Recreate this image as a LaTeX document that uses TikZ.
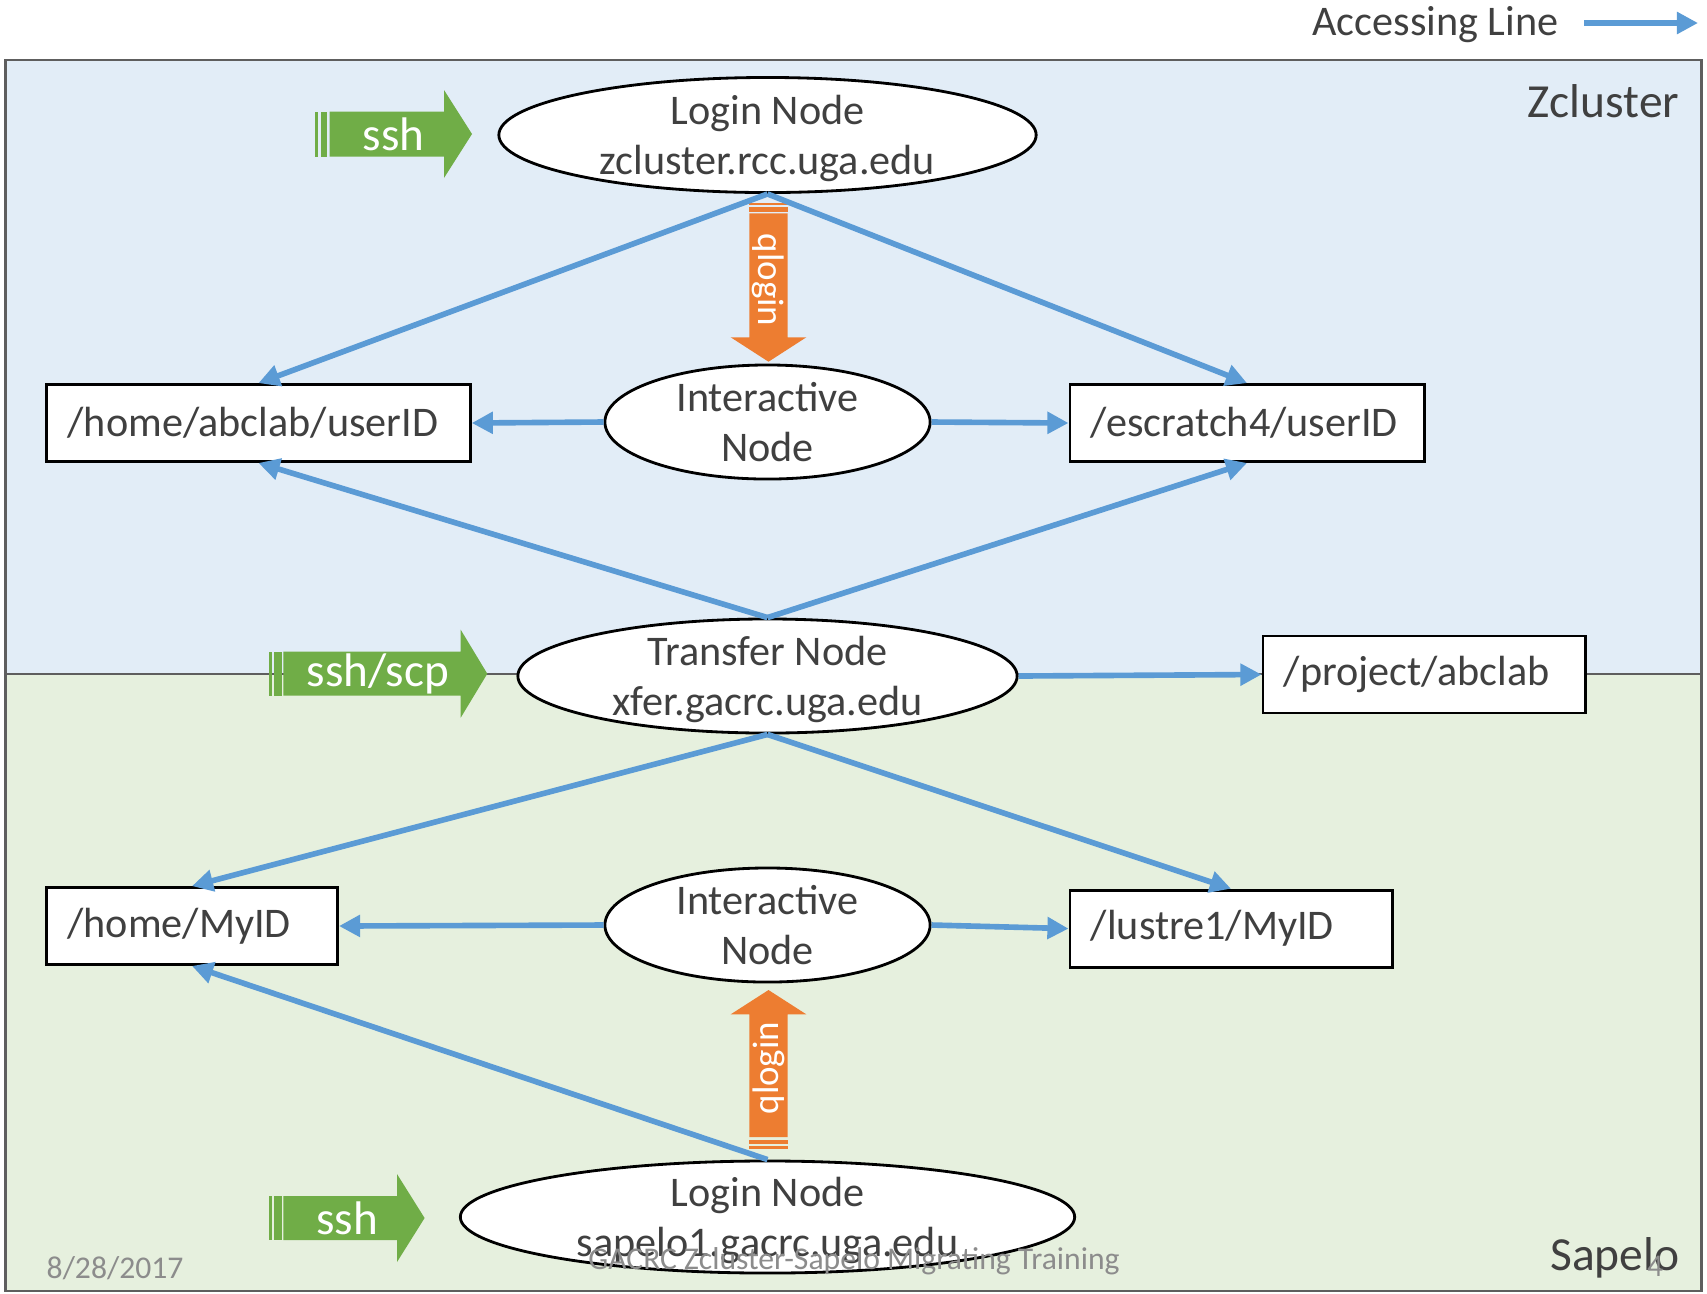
\documentclass[tikz,border=0pt]{standalone}
\usepackage{fontspec}
\setmainfont{Carlito}
\usetikzlibrary{shapes.geometric,arrows.meta}
\definecolor{accblue}{HTML}{5B9BD5}
\definecolor{qorange}{HTML}{ED7D31}
\definecolor{sshgreen}{HTML}{70AD47}
\definecolor{zfill}{HTML}{E2EDF7}
\definecolor{sfill}{HTML}{E6F0DE}
\definecolor{framegrey}{HTML}{5E5E5E}
\definecolor{txt}{HTML}{404040}
\definecolor{foot}{HTML}{8C8C8C}
\tikzstyle{host} = [ellipse, draw = black, line width = 0.8pt, fill = white, inner xsep = 0pt, inner ysep = -8pt, align = center, text = txt, font = \fontsize{12}{14.3}\selectfont, execute at begin node = {\rule{0pt}{25.4pt}}, execute at end node = {\rule[-3pt]{0pt}{0pt}}]
\tikzstyle{dir} = [rectangle, draw = black, line width = 0.8pt, fill = white, inner xsep = 0.21cm, minimum height = 0.77cm, align = left, text = txt, font = \fontsize{12}{14.3}\selectfont]
\tikzstyle{access} = [draw = accblue, line width = 1.6pt, -{Triangle[length = 6pt, width = 6pt]}]
\tikzstyle{cluster} = [text = txt, font = \fontsize{13.5}{16}\selectfont, anchor = east, inner sep = 0pt]
\tikzstyle{footer} = [text = foot, font = \fontsize{9}{11}\selectfont, inner sep = 0pt]
\tikzstyle{ssh} = [text = white, font = \fontsize{13.4}{16}\selectfont]
\tikzstyle{qlogin} = [text = white, font = \fontsize{10.5}{12}\selectfont]

\begin{document}
\begin{tikzpicture}[x = 0.01cm, y = -0.01cm]
\useasboundingbox (0,0) rectangle (1707,1293);

\fill[zfill] (5.4,60) rectangle (1701.5,674);
\fill[sfill] (5.4,674) rectangle (1701.5,1291);
\draw[framegrey, line width = 0.8pt] (5.4,674) -- (1701.5,674);
\draw[framegrey, line width = 0.8pt] (5.4,60) rectangle (1701.5,1291);

\node(zlabel) [cluster] at (1680,101) {Zcluster};
\node(slabel) [cluster] at (1680,1258) {Sapelo};

\node(legend) [text = txt, font = \fontsize{12}{14.3}\selectfont, anchor = east, inner sep = 0pt] at (1559,25) {Accessing Line};
\coordinate (legA) at (1584,23);
\coordinate (legB) at (1698,23);
\draw [access] (legA) -- (legB);

\node(zlogin) [host, minimum width = 5.37cm, minimum height = 1.15cm] at (767.5,135) {Login Node\\zcluster.rcc.uga.edu};
\node(zinter) [host, minimum width = 3.25cm, minimum height = 1.14cm] at (767.5,422) {Interactive\\Node};
\node(xfer) [host, minimum width = 4.99cm, minimum height = 1.14cm] at (767.5,676) {Transfer Node\\xfer.gacrc.uga.edu};
\node(sinter) [host, minimum width = 3.25cm, minimum height = 1.14cm] at (767.5,925) {Interactive\\Node};
\node(slogin) [host, minimum width = 6.14cm, minimum height = 1.12cm] at (767.5,1217) {Login Node\\sapelo1.gacrc.uga.edu};

\node(zhome) [dir, text width = 3.815cm] at (258.5,423) {/home/abclab/userID};
\node(zscratch) [dir, text width = 3.12cm] at (1247,423) {/escratch4/userID};
\node(project) [dir, text width = 2.8cm] at (1424,674.5) {/project/abclab};
\node(shome) [dir, text width = 2.49cm] at (192,926) {/home/MyID};
\node(lustre) [dir, text width = 2.8cm] at (1231,928.6) {/lustre1/MyID};

% ssh arrows
\fill[sshgreen] (315,111.5) rectangle (318,156.5);
\fill[sshgreen] (320.5,111.5) rectangle (327,156.5);
\fill[sshgreen] (329.5,111.5) -- (444,111.5) -- (444,90) -- (472,134) -- (444,178) -- (444,156.5) -- (329.5,156.5) -- cycle;
\node(ssh1) [ssh] at (393.5,134) {ssh};

\fill[sshgreen] (269,651.7) rectangle (272,695.7);
\fill[sshgreen] (274,651.7) rectangle (281.7,695.7);
\fill[sshgreen] (283.3,651.7) -- (460.7,651.7) -- (460.7,629.7) -- (487.3,673.7) -- (460.7,717.7) -- (460.7,695.7) -- (283.3,695.7) -- cycle;
\node(ssh2) [ssh] at (378,673.7) {ssh/scp};

\fill[sshgreen] (269,1196) rectangle (272,1240);
\fill[sshgreen] (274,1196) rectangle (281.7,1240);
\fill[sshgreen] (283.3,1196) -- (397,1196) -- (397,1174) -- (424.6,1218) -- (397,1262) -- (397,1240) -- (283.3,1240) -- cycle;
\node(ssh3) [ssh] at (347,1218) {ssh};

% qlogin arrows
\fill[qorange] (749.3,202.7) rectangle (787.7,205);
\fill[qorange] (749.3,206.7) rectangle (787.7,212.3);
\fill[qorange] (749.3,213.3) -- (749.3,337.3) -- (730.7,337.3) -- (768.5,361.7) -- (806.3,337.3) -- (787.7,337.3) -- (787.7,213.3) -- cycle;
\node(qtop) [qlogin, rotate = -90] at (768.5,280) {qlogin};

\fill[qorange] (749.3,1146) rectangle (787.7,1149);
\fill[qorange] (749.3,1139.5) rectangle (787.7,1144);
\fill[qorange] (749.3,1137) -- (749.3,1014.3) -- (730.7,1014.3) -- (768.5,990) -- (806.3,1014.3) -- (787.7,1014.3) -- (787.7,1137) -- cycle;
\node(qbot) [qlogin, rotate = 90] at (768.5,1068) {qlogin};

\draw [access] (zlogin.south) -- (zhome.north);
\draw [access] (zlogin.south) -- (zscratch.north);
\draw [access] (zinter.west) -- (zhome.east);
\draw [access] (zinter.east) -- (zscratch.west);
\draw [access] (xfer.north) -- (zhome.south);
\draw [access] (xfer.north) -- (zscratch.south);
\draw [access] (xfer.east) -- (project.west);
\draw [access] (xfer.south) -- (shome.north);
\draw [access] (xfer.south) -- (lustre.north);
\draw [access] (sinter.west) -- (shome.east);
\draw [access] (sinter.east) -- (lustre.west);
\draw [access] (slogin.north) -- (shome.south);

\node(date) [footer, anchor = west] at (46,1268) {8/28/2017};
\node(course) [footer] at (854,1261) {GACRC Zcluster-Sapelo Migrating Training};
\node(page) [footer] at (1655,1266) {4};

\end{tikzpicture}
\end{document}
